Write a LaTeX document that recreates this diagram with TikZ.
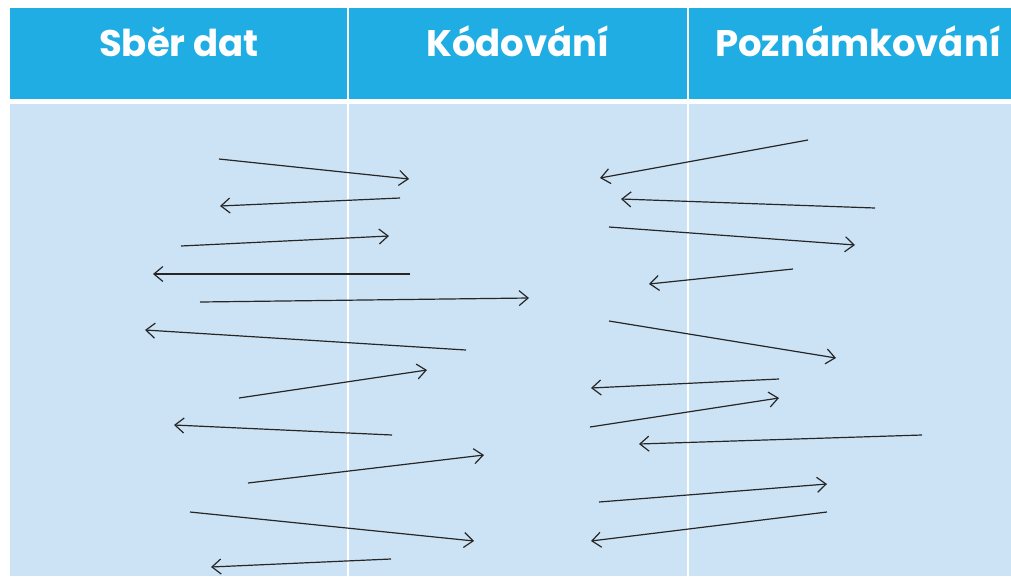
\documentclass[tikz,border=0pt]{standalone}
\usepackage{fontspec}
\setmainfont{Poppins}
\usetikzlibrary{arrows.meta}
\definecolor{headblue}{HTML}{1FADE3}
\definecolor{bodyblue}{HTML}{CCE3F5}
\tikzset{
  headtext/.style={text=white,anchor=base,font=\bfseries\fontsize{37}{42}\selectfont},
  arr/.style={draw=black!85,line width=1.2pt,-{Straight Barb[length=9pt,width=15pt]}}
}
\begin{document}
\begin{tikzpicture}[x=1pt,y=-1pt]
  \useasboundingbox (0,0) rectangle (1011,576);
  \fill[white] (0,0) rectangle (1011,576);

  % header row
  \fill[headblue] (10,8) rectangle (347,99);
  \fill[headblue] (349,8) rectangle (687,99);
  \fill[headblue] (689,8) rectangle (1011,99);

  % body row
  \fill[bodyblue] (10,104) rectangle (347,576);
  \fill[bodyblue] (349,104) rectangle (687,576);
  \fill[bodyblue] (689,104) rectangle (1011,576);

  \node[headtext] (sber) at (179,56) {Sběr dat};
  \node[headtext] (kod) at (518,56) {Kódování};
  \node[headtext] (pozn) at (858,56) {Poznámkování};

  % left bundle
  \foreach \xa/\ya/\xb/\yb in {219/159/409/179, 400/198/220/206, 181/246/389/236,
    410/274/153/274, 200/302/529/298, 466/350/145/330, 239/398/427/370,
    392/435/174/425, 248/483/484/455, 190/512/474/541, 391/559/211/567}
    \draw[arr] (\xa,\ya) -- (\xb,\yb);

  % right bundle
  \foreach \xa/\ya/\xb/\yb in {808/140/600/178, 875/208/621/199, 609/227/855/245,
    793/269/649/284, 609/321/836/358, 779/379/591/388, 590/427/779/398,
    922/435/639/444, 599/502/827/484, 827/512/591/541}
    \draw[arr] (\xa,\ya) -- (\xb,\yb);

\end{tikzpicture}
\end{document}
